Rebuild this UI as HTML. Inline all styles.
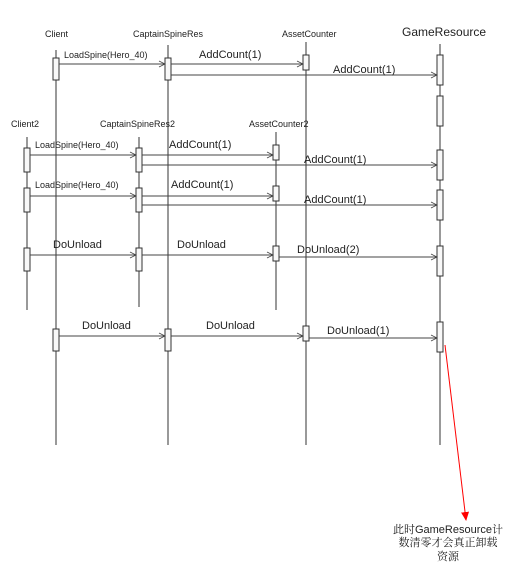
<!DOCTYPE html>
<html><head><meta charset="utf-8"><style>
html,body{margin:0;padding:0;background:#fff;width:525px;height:574px;overflow:hidden}
text{font-family:"Liberation Sans","Noto Sans CJK SC",sans-serif;fill:#222}
.s{font-size:9px}.m{font-size:11px}
</style></head><body>
<svg width="525" height="574" viewBox="0 0 525 574" xmlns="http://www.w3.org/2000/svg">
<defs><marker id="a" markerWidth="8" markerHeight="8" refX="7" refY="4" orient="auto"><path d="M1,1 L7,4 L1,7" fill="none" stroke="#444" stroke-width="0.8"/></marker>
<marker id="r" markerWidth="10" markerHeight="10" refX="8" refY="5" orient="auto"><path d="M0,1 L9,5 L0,9 Z" fill="#f00"/></marker></defs>
<g stroke="#333" stroke-width="1">
<line x1="56" y1="50" x2="56" y2="445"/><line x1="168" y1="45" x2="168" y2="445"/><line x1="306" y1="42" x2="306" y2="445"/><line x1="440" y1="44" x2="440" y2="445"/>
<line x1="27" y1="137" x2="27" y2="310"/><line x1="139" y1="137" x2="139" y2="307"/><line x1="276" y1="132" x2="276" y2="310"/>
</g>
<g fill="#f8f8f8" stroke="#333" stroke-width="1">
<rect x="53" y="58" width="6" height="22"/><rect x="165" y="58" width="6" height="22"/><rect x="303" y="55" width="6" height="15"/>
<rect x="437" y="55" width="6" height="30"/><rect x="437" y="96" width="6" height="30"/>
<rect x="24" y="148" width="6" height="24"/><rect x="136" y="148" width="6" height="24"/><rect x="273" y="145" width="6" height="15"/><rect x="437" y="150" width="6" height="30"/>
<rect x="24" y="188" width="6" height="24"/><rect x="136" y="188" width="6" height="24"/><rect x="273" y="186" width="6" height="15"/><rect x="437" y="190" width="6" height="30"/>
<rect x="24" y="248" width="6" height="23"/><rect x="136" y="248" width="6" height="23"/><rect x="273" y="246" width="6" height="15"/><rect x="437" y="246" width="6" height="30"/>
<rect x="53" y="329" width="6" height="22"/><rect x="165" y="329" width="6" height="22"/><rect x="303" y="326" width="6" height="15"/><rect x="437" y="322" width="6" height="30"/>
</g>
<g stroke="#444" stroke-width="1" marker-end="url(#a)">
<line x1="59" y1="64" x2="165" y2="64"/><line x1="171" y1="64" x2="303" y2="64"/><line x1="171" y1="75" x2="437" y2="75"/>
<line x1="30" y1="155" x2="136" y2="155"/><line x1="142" y1="155" x2="273" y2="155"/><line x1="142" y1="165" x2="437" y2="165"/>
<line x1="30" y1="196" x2="136" y2="196"/><line x1="142" y1="196" x2="273" y2="196"/><line x1="142" y1="205" x2="437" y2="205"/>
<line x1="30" y1="255" x2="136" y2="255"/><line x1="142" y1="255" x2="273" y2="255"/><line x1="279" y1="257" x2="437" y2="257"/>
<line x1="59" y1="336" x2="165" y2="336"/><line x1="171" y1="336" x2="303" y2="336"/><line x1="309" y1="338" x2="437" y2="338"/>
</g>
<line x1="445" y1="345" x2="466" y2="520" stroke="#f00" stroke-width="1" marker-end="url(#r)"/>
<text class="s" x="45" y="37">Client</text><text class="s" x="133" y="37">CaptainSpineRes</text><text class="s" x="282" y="37">AssetCounter</text>
<text style="font-size:12px" x="402" y="36">GameResource</text>
<text class="s" x="11" y="127">Client2</text><text class="s" x="100" y="127">CaptainSpineRes2</text><text class="s" x="249" y="127">AssetCounter2</text>
<text class="s" x="64" y="58">LoadSpine(Hero_40)</text><text class="m" x="199" y="58">AddCount(1)</text><text class="m" x="333" y="73">AddCount(1)</text>
<text class="s" x="35" y="148">LoadSpine(Hero_40)</text><text class="m" x="169" y="148">AddCount(1)</text><text class="m" x="304" y="163">AddCount(1)</text>
<text class="s" x="35" y="188">LoadSpine(Hero_40)</text><text class="m" x="171" y="188">AddCount(1)</text><text class="m" x="304" y="203">AddCount(1)</text>
<text class="m" x="53" y="248">DoUnload</text><text class="m" x="177" y="248">DoUnload</text><text class="m" x="297" y="253">DoUnload(2)</text>
<text class="m" x="82" y="329">DoUnload</text><text class="m" x="206" y="329">DoUnload</text><text class="m" x="327" y="334">DoUnload(1)</text>
<g style="font-size:11px;font-family:'Liberation Sans','Noto Serif CJK SC',serif" text-anchor="middle"><text x="448" y="533" style="font-family:'Liberation Sans','Noto Serif CJK SC',serif">此时GameResource计</text><text x="448" y="546" style="font-family:'Liberation Sans','Noto Serif CJK SC',serif">数清零才会真正卸载</text><text x="448" y="560" style="font-family:'Liberation Sans','Noto Serif CJK SC',serif">资源</text></g>
</svg>
</body></html>
